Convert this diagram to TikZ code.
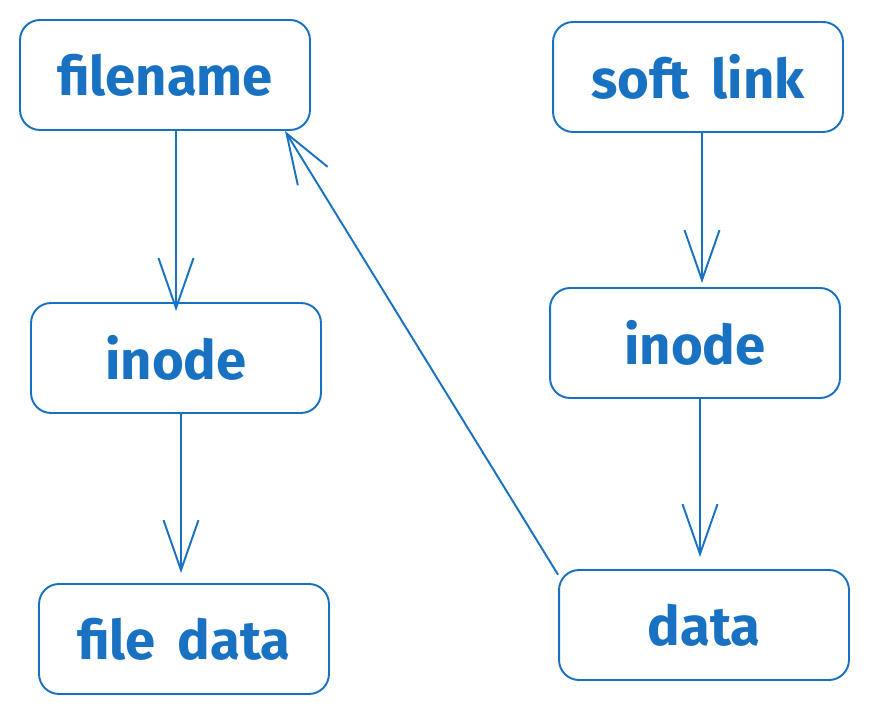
\documentclass[tikz,border=0pt]{standalone}
\usepackage{fontspec}
\setmainfont{Fira Sans}
\usetikzlibrary{arrows.meta}
\definecolor{sketchblue}{HTML}{1971C2}
\tikzset{
  box/.style={draw=sketchblue, rounded corners=0.4cm, minimum width=5.8cm, minimum height=2.2cm, text=sketchblue, font=\fontsize{31}{34}\selectfont\bfseries},
  link/.style={draw=sketchblue, line width=1.1pt, -{Straight Barb[length=1cm, width=0.7cm, line width=1.1pt]}}
}
\begin{document}
\begin{tikzpicture}[x=0.02cm, y=-0.02cm, line width=1.1pt]
  \useasboundingbox (0,0) rectangle (869,715);
  % left column: hard link
  \node[box] (filename) at (165,75) {filename};
  \node[box] (inodeL) at (176,358) {inode};
  \node[box] (filedata) at (184,639) {file\ \,data};
  % right column: soft link
  \node[box] (softlink) at (698,77) {soft\ \,link};
  \node[box] (inodeR) at (695,343) {inode};
  \node[box] (data) at (704,625) {data};
  \draw[link] (filename.south -| inodeL) -- ([yshift=-0.18cm]inodeL.north);
  \draw[link] ([xshift=-0.06cm]inodeL.south -| filedata) -- ([yshift=0.2cm,xshift=-0.06cm]filedata.north);
  \draw[link] ([xshift=0.08cm]softlink.south) -- ([xshift=0.08cm,yshift=0.08cm]softlink.south |- inodeR.north);
  \draw[link] ([xshift=0.1cm]inodeR.south) -- ([xshift=0.1cm,yshift=0.24cm]inodeR.south |- data.north);
  \draw[link] (data.161) -- (filename.335);
\end{tikzpicture}
\end{document}
